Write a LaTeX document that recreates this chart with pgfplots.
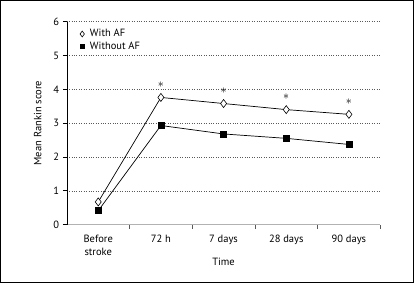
\documentclass[border=0pt]{standalone}
\usepackage{pgfplots}
\pgfplotsset{compat=1.18}
\usepackage{fontspec}
\setmainfont{PT Sans}
\pgfplotsset{mylegend/.style={legend image code/.code={\path[draw=none, fill=none] (0,0) -- (0.32cm,0cm); \draw[##1, every mark/.append style={scale=0.72}] plot coordinates {(0.1cm,0cm)};}}}
\begin{document}
\fontsize{10.5}{12.5}\selectfont
\begin{tikzpicture}
\begin{axis}[
 scale only axis, width=312bp, height=202bp,
 xmin=-0.5, xmax=4.5, ymin=0, ymax=6,
 axis x line=bottom, axis y line=left,
 x axis line style={-, gray!60, line width=1.6bp},
 y axis line style={-, black, line width=0.6bp},
 tick label style={font=\fontsize{10.5}{12.5}\selectfont},
 label style={font=\fontsize{10.5}{12.5}\selectfont},
 xtick={0,1,2,3,4},
 xticklabels={{Before\\stroke},{72 h},{7 days},{28 days},{90 days}},
 x tick label style={align=center, yshift=-3bp},
 major x tick style={draw=none},
 minor xtick={0.5,1.5,2.5,3.5,4.5},
 minor x tick style={gray!70!black, line width=0.6bp},
 minor tick length=4bp,
 ytick={0,...,6},
 major tick length=4bp,
 y tick style={black, line width=0.6bp},
 tick align=outside,
 ymajorgrids,
 y grid style={dotted, gray!70!black, line width=0.5bp},
 /pgf/number format/assume math mode=true,
 ylabel={Mean Rankin score},
 xlabel={Time},
 ylabel style={at={(axis description cs:-0.093,0.5)}, anchor=center},
 xlabel style={at={(axis description cs:0.5,-0.183)}, anchor=center},
 legend style={draw=none, fill=none, at={(0.036,0.975)}, anchor=north west, row sep=0.5bp, inner sep=1bp, nodes={inner sep=1.5bp}, font=\fontsize{10.5}{12.5}\selectfont},
 legend cell align=left,
]
\addplot[black, line width=0.7bp, mark=diamond*, mark size=4bp,
  mark options={fill=white, solid, line width=0.6bp}, mylegend,
  nodes near coords, point meta=explicit symbolic,
  every node near coord/.append style={font=\fontsize{13}{13}\selectfont, anchor=center, yshift=12.5bp}]
  coordinates {(0,0.67) [] (1,3.76) [$\ast$] (2,3.58) [$\ast$] (3,3.40) [$\ast$] (4,3.26) [$\ast$]};
\addlegendentry{With AF}
\addplot[black, line width=0.7bp, mark=square*, mark size=3bp,
  mark options={fill=black, solid}, mylegend]
  coordinates {(0,0.41) (1,2.93) (2,2.68) (3,2.55) (4,2.37)};
\addlegendentry{Without AF}
\end{axis}
\draw[line width=1.2bp] ([xshift=-66bp,yshift=-58bp]current axis.south west) rectangle ([xshift=33bp,yshift=21bp]current axis.north east);
\end{tikzpicture}
\end{document}
